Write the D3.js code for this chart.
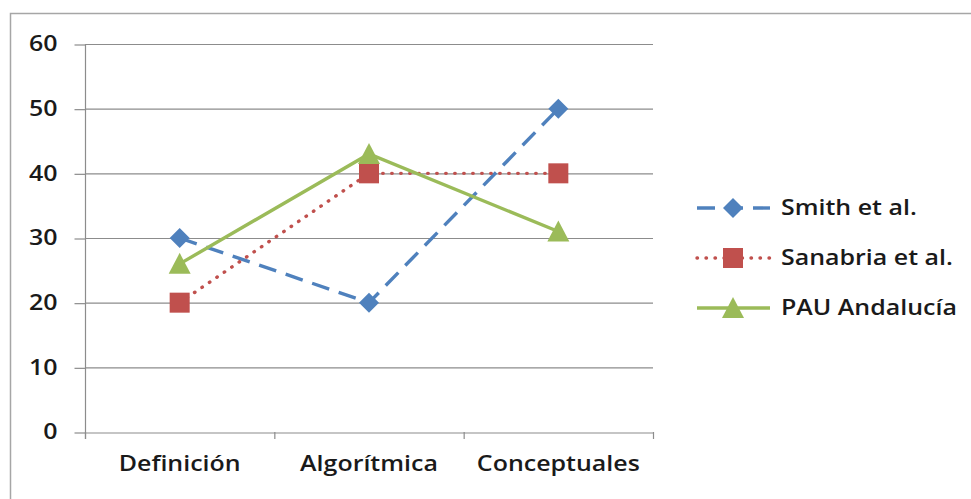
<!DOCTYPE html>
<html><head><meta charset="utf-8">
<script src="https://cdn.jsdelivr.net/npm/d3@7"></script>
<style>body{margin:0;background:#fff}svg{display:block}</style>
</head><body>
<svg id="c" width="971" height="499"></svg>
<script>
const categories = ["Definición", "Algorítmica", "Conceptuales"];
const seriesNames = ["Smith et al.", "Sanabria et al.", "PAU Andalucía"];
const smith = [30, 20, 50];
const sanabria = [20, 40, 40];
const pau = [26, 43, 31];
const yTicks = [0, 10, 20, 30, 40, 50, 60];

(function () {
const series = [
  {name: seriesNames[0], values: smith, color: "#4F81BD", dash: "18,10", cap: "butt", marker: "diamond"},
  {name: seriesNames[1], values: sanabria, color: "#C0504D", dash: "0.5,8.5", cap: "round", marker: "square"},
  {name: seriesNames[2], values: pau, color: "#9BBB59", dash: null, cap: "butt", marker: "triangle"}
];

const svg = d3.select("#c");
const font = "'Open Sans', Lato, sans-serif";
const fSize = 21, fWeight = 600, fColor = "#1a1a1a";
svg.append("path").attr("d", "M10.5,499 V13.5 H971").attr("fill","none").attr("stroke","#a6a6a6").attr("stroke-width",1.5);

const probe = svg.append("text").attr("font-family", font).attr("font-size", fSize).attr("font-weight", fWeight).text(categories[0]);
const stretch = 122 / probe.node().getComputedTextLength();
probe.remove();
function styleText(sel) {
  sel.attr("font-family", font).attr("font-size", fSize).attr("font-weight", fWeight).attr("fill", fColor)
    .attr("transform", function () { const ax = +d3.select(this).attr("x") || 0; return `translate(${ax * (1 - stretch)},0) scale(${stretch},1)`; });
}

const pLeft = 85, pRight = 653, pTop = 44, pBottom = 432;
const x = d3.scaleBand().domain(categories).range([pLeft, pRight]);
const y = d3.scaleLinear().domain([0, 60]).range([pBottom, pTop]);

svg.append("g").selectAll("line").data(yTicks.filter(d => d > 0)).join("line")
  .attr("x1", pLeft).attr("x2", pRight).attr("y1", d => y(d) + 0.5).attr("y2", d => y(d) + 0.5)
  .attr("stroke", "#8c8c8c").attr("stroke-width", 1.2);

const yAxis = svg.append("g").attr("transform", `translate(${pLeft + 0.5},0)`)
  .call(d3.axisLeft(y).tickValues(yTicks).tickSize(11).tickPadding(17));
yAxis.select(".domain").attr("stroke", "#8c8c8c").attr("stroke-width", 1.2).attr("d", `M0,${pTop}V${pBottom + 7}`);
yAxis.selectAll(".tick line").attr("stroke", "#8c8c8c").attr("stroke-width", 1.2).attr("transform", "translate(0,0.5)");
yAxis.selectAll(".tick text").call(styleText);

const xAxis = svg.append("g").attr("transform", `translate(0,${pBottom + 0.5})`)
  .call(d3.axisBottom(x).tickSize(0).tickPadding(24));
xAxis.select(".domain").attr("stroke", "#8c8c8c").attr("stroke-width", 1.2);
xAxis.selectAll(".tick text").call(styleText);
svg.append("g").selectAll("line").data(d3.range(categories.length + 1)).join("line")
  .attr("x1", i => pLeft + 0.5 + i * x.step()).attr("x2", i => pLeft + 0.5 + i * x.step())
  .attr("y1", pBottom).attr("y2", pBottom + 7).attr("stroke", "#8c8c8c").attr("stroke-width", 1.2);

const cx = c => x(c) + x.bandwidth() / 2;
function drawMarker(g, type, px, py, color, s) {
  if (type === "diamond") {
    g.append("path").attr("d", `M${px},${py - s}L${px + s},${py}L${px},${py + s}L${px - s},${py}Z`).attr("fill", color);
  } else if (type === "square") {
    g.append("rect").attr("x", px - s).attr("y", py - s).attr("width", 2 * s).attr("height", 2 * s).attr("fill", color);
  } else {
    g.append("path").attr("d", `M${px},${py - s - 1}L${px + s + 1},${py + s}L${px - s - 1},${py + s}Z`).attr("fill", color);
  }
}

const line = d3.line().x((d, i) => cx(categories[i])).y(d => y(d));
series.forEach(s => {
  const g = svg.append("g");
  g.append("path").datum(s.values).attr("d", line).attr("fill", "none")
    .attr("stroke", s.color).attr("stroke-width", 3.4)
    .attr("stroke-dasharray", s.dash).attr("stroke-linecap", s.cap);
  s.values.forEach((v, i) => drawMarker(g, s.marker, cx(categories[i]), y(v), s.color, 10));
});

const legY = [208, 258, 308];
series.forEach((s, i) => {
  const g = svg.append("g");
  g.append("line").attr("x1", 697).attr("x2", 770).attr("y1", legY[i]).attr("y2", legY[i])
    .attr("stroke", s.color).attr("stroke-width", 3.4).attr("stroke-dasharray", s.dash).attr("stroke-linecap", s.cap);
  drawMarker(g, s.marker, 733, legY[i], s.color, 10);
  g.append("text").attr("x", 781).attr("y", legY[i]).attr("dy", "0.35em").text(s.name).call(styleText);
});
})();
</script>
</body></html>
